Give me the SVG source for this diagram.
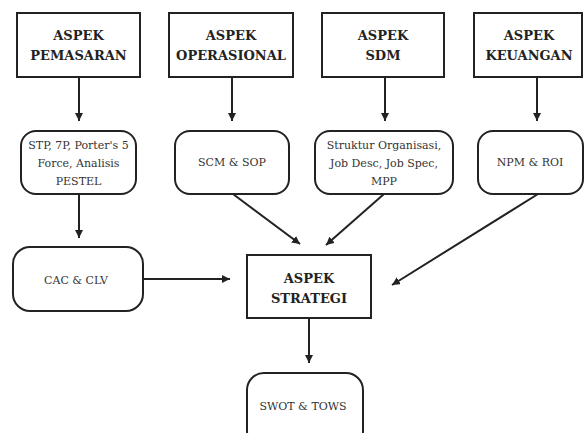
<svg xmlns="http://www.w3.org/2000/svg" width="584" height="433" viewBox="0 0 584 433">
<defs>
<style>
.hd{fill:#fff;stroke:#222;stroke-width:2}
.rb{fill:#fff;stroke:#222;stroke-width:2}
.ht{font-family:"DejaVu Serif",serif;font-weight:bold;font-size:13px;fill:#222;text-anchor:middle}
.bt{font-family:"DejaVu Serif",serif;font-size:11px;fill:#333;text-anchor:middle}
.cn{stroke:#222;stroke-width:2;fill:none;marker-end:url(#ah)}
</style>
<marker id="ah" viewBox="0 0 10 10" refX="10" refY="5" markerWidth="4" markerHeight="4" orient="auto" markerUnits="strokeWidth">
<path d="M0,0 L10,5 L0,10 z" fill="#222"/>
</marker>
</defs>
<rect width="584" height="433" fill="#fff"/>
<g id="connectors">
<line class="cn" x1="79" y1="77" x2="79" y2="121"/>
<line class="cn" x1="232" y1="77" x2="232" y2="121"/>
<line class="cn" x1="385" y1="77" x2="385" y2="121"/>
<line class="cn" x1="537" y1="77" x2="537" y2="121"/>
<line class="cn" x1="79" y1="194" x2="79" y2="238"/>
<line class="cn" x1="233" y1="194" x2="300" y2="244"/>
<line class="cn" x1="384" y1="194" x2="326" y2="245"/>
<line class="cn" x1="538" y1="194" x2="392" y2="285"/>
<line class="cn" x1="143" y1="279" x2="230" y2="279"/>
<line class="cn" x1="309" y1="318" x2="309" y2="363"/>
</g>
<g id="aspek-pemasaran">
<rect class="hd" x="17" y="13" width="123" height="64"/>
<text class="ht" x="78.5" y="40">ASPEK</text>
<text class="ht" x="78.5" y="60">PEMASARAN</text>
</g>
<g id="aspek-operasional">
<rect class="hd" x="169" y="13" width="124" height="64"/>
<text class="ht" x="231" y="40">ASPEK</text>
<text class="ht" x="231" y="60">OPERASIONAL</text>
</g>
<g id="aspek-sdm">
<rect class="hd" x="322" y="13" width="122" height="64"/>
<text class="ht" x="383" y="40">ASPEK</text>
<text class="ht" x="383" y="60">SDM</text>
</g>
<g id="aspek-keuangan">
<rect class="hd" x="474" y="13" width="108" height="64"/>
<text class="ht" x="529" y="40">ASPEK</text>
<text class="ht" x="529" y="60">KEUANGAN</text>
</g>
<g id="pemasaran-tools">
<rect class="rb" x="21" y="131" width="115" height="63" rx="15"/>
<text class="bt" x="78.5" y="149">STP, 7P, Porter's 5</text>
<text class="bt" x="78.5" y="167">Force, Analisis</text>
<text class="bt" x="78.5" y="185">PESTEL</text>
</g>
<g id="scm-sop">
<rect class="rb" x="175" y="131" width="114" height="63" rx="15"/>
<text class="bt" x="232" y="166">SCM &amp; SOP</text>
</g>
<g id="sdm-tools">
<rect class="rb" x="315" y="131" width="138" height="63" rx="15"/>
<text class="bt" x="384" y="149">Struktur Organisasi,</text>
<text class="bt" x="384" y="167">Job Desc, Job Spec,</text>
<text class="bt" x="384" y="185">MPP</text>
</g>
<g id="npm-roi">
<rect class="rb" x="478" y="131" width="105" height="63" rx="15"/>
<text class="bt" x="530" y="166">NPM &amp; ROI</text>
</g>
<g id="cac-clv">
<rect class="rb" x="13" y="247" width="130" height="64" rx="17"/>
<text class="bt" x="76" y="284">CAC &amp; CLV</text>
</g>
<g id="aspek-strategi">
<rect class="hd" x="247" y="255" width="124" height="63"/>
<text class="ht" x="309" y="283">ASPEK</text>
<text class="ht" x="309" y="303">STRATEGI</text>
</g>
<g id="swot-tows">
<rect class="rb" x="247" y="373" width="116" height="75" rx="17"/>
<text class="bt" x="303" y="410">SWOT &amp; TOWS</text>
</g>
</svg>
